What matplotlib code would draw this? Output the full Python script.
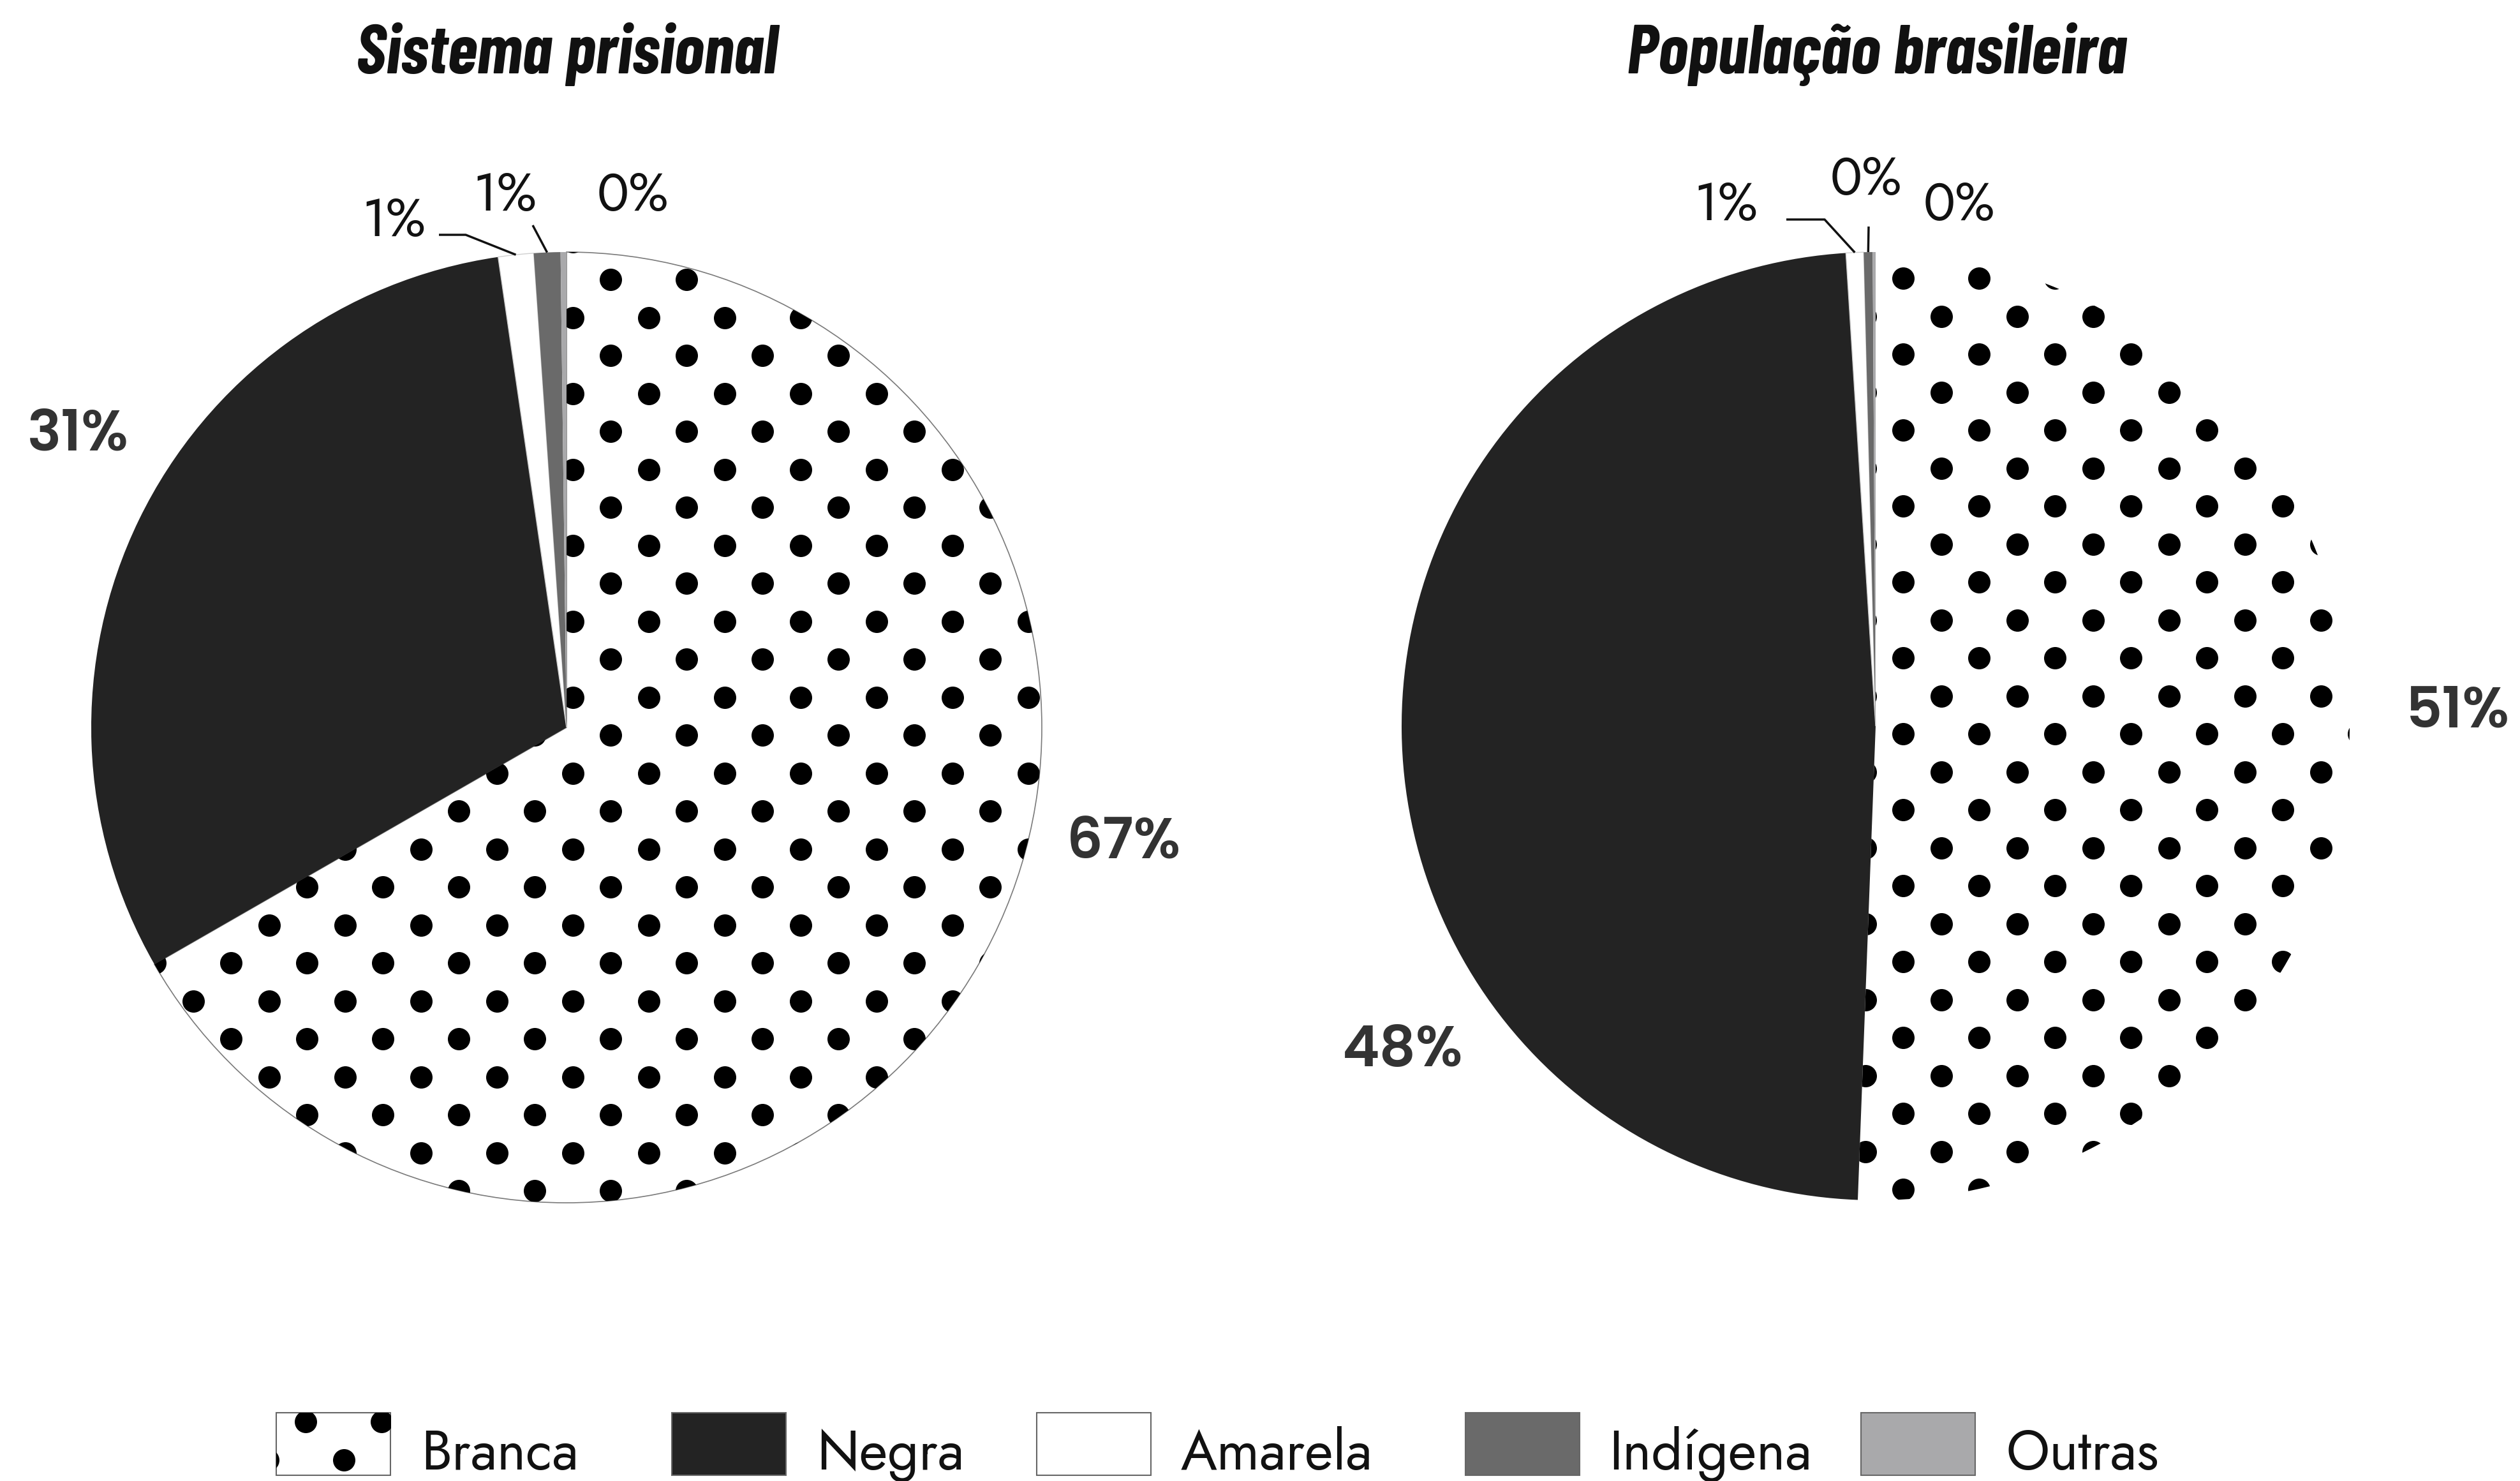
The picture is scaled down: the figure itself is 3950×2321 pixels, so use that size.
import numpy as np
import matplotlib.pyplot as plt
from matplotlib.patches import Rectangle

categorias = ['Branca', 'Negra', 'Amarela', 'Indígena', 'Outras']
prisional = [66.7, 31.0, 1.2, 0.9, 0.2]
populacao = [50.6, 48.4, 0.6, 0.3, 0.1]
titulos = ['Sistema prisional', 'População brasileira']
cores = ['white', '#232323', 'white', '#6a6a6a', '#a9a9ab']

W, H = 3950, 2321
fonte = ['Jost', 'Lato', 'DejaVu Sans']
fonte_negrito = ['Poppins', 'Lato', 'DejaVu Sans']
fonte_titulo = ['Barlow Condensed', 'Fira Sans Condensed', 'DejaVu Sans']
PASSO = 119          # espaçamento da trama de pontos (px)
TAM_PONTO = 635      # área do ponto em pt^2


def py(y):
    # coordenadas de imagem (y para baixo) -> eixo (y para cima)
    return H - y


def trama(x0, y0, x1, y1, ox, oy):
    xs, ys = [], []
    for dx, dy in [(0, 0), (PASSO / 2, PASSO / 2)]:
        kx = np.arange(np.floor((x0 - ox) / PASSO) - 1, np.ceil((x1 - ox) / PASSO) + 2)
        ky = np.arange(np.floor((y0 - oy) / PASSO) - 1, np.ceil((y1 - oy) / PASSO) + 2)
        gx, gy = np.meshgrid(ox + dx + kx * PASSO, oy + dy + ky * PASSO)
        xs.append(gx.ravel())
        ys.append(gy.ravel())
    return np.concatenate(xs), np.concatenate(ys)


def ponto_borda(valores, i, cx, cy, r):
    acum = np.cumsum([0] + list(valores))
    meio = (acum[i] + valores[i] / 2) / acum[-1]
    ang = np.radians(90 - 360 * meio)
    return cx + r * np.cos(ang), cy - r * np.sin(ang)


fig = plt.figure(figsize=(W / 100, H / 100), dpi=100)
ax = fig.add_axes([0, 0, 1, 1])

pizzas = [
    dict(valores=prisional, cx=888, cy=1140, r=745, borda=True, origem=(957, 438),
         grandes=[(0, 1762, 1345), (1, 122, 705)],
         pequenos=[(2, 617, 370, [(688, 368), (730, 368)]),
                   (3, 791, 330, [(835, 353)]),
                   (4, 992, 330, None)],
         titulo_x=888),
    dict(valores=populacao, cx=2940, cy=1138, r=743, borda=False, origem=(2983, 436),
         grandes=[(0, 3852, 1140), (1, 2199, 1671)],
         pequenos=[(2, 2705, 345, [(2800, 344), (2860, 344)]),
                   (3, 2925, 305, [(2929, 355)]),
                   (4, 3071, 345, None)],
         titulo_x=2942),
]

for p, titulo in zip(pizzas, titulos):
    vals = p['valores']
    cx, cy, r = p['cx'], p['cy'], p['r']
    wedges, _ = ax.pie(vals, colors=cores, startangle=90, counterclock=False,
                       center=(cx, py(cy)), radius=r,
                       wedgeprops=dict(linewidth=0))
    # contornos
    wedges[2].set_edgecolor('#d0d0d0')
    wedges[2].set_linewidth(1.0)
    if p['borda']:
        wedges[0].set_edgecolor('#7a7a7a')
        wedges[0].set_linewidth(1.2)

    # trama de pontos da fatia Branca
    xs, ys = trama(cx - r, cy - r, cx + r, cy + r, *p['origem'])
    pts = ax.scatter(xs, py(ys), s=TAM_PONTO, c='black', linewidths=0, zorder=3)
    pts.set_clip_path(wedges[0])

    for i, tx, ty in p['grandes']:
        ax.text(tx, py(ty), f'{vals[i]:.0f}%', ha='center', va='baseline',
                fontsize=64, fontweight='semibold', color='#333333', family=fonte_negrito)

    for i, tx, ty, guia in p['pequenos']:
        ax.text(tx, py(ty), f'{vals[i]:.0f}%', ha='center', va='baseline',
                fontsize=60, color='#111111', family=fonte)
        if guia:
            bx, by = ponto_borda(vals, i, cx, cy, r)
            gx = [g[0] for g in guia] + [bx]
            gy = [py(g[1]) for g in guia] + [py(by)]
            ax.plot(gx, gy, color='#111111', lw=2.5, solid_capstyle='butt')

    ax.text(p['titulo_x'], py(115), titulo, ha='center', va='baseline',
            fontsize=78, fontweight='bold', fontstyle='italic', color='#111111',
            family=fonte_titulo)

# legenda
caixa_x = [433, 1053, 1625, 2297, 2917]
texto_x = [660, 1280, 1851, 2522, 3144]
caixa_y, caixa_w, caixa_h = 2214, 179, 98
for k, (nome, cor) in enumerate(zip(categorias, cores)):
    ret = Rectangle((caixa_x[k], py(caixa_y + caixa_h)), caixa_w, caixa_h,
                    facecolor=cor, edgecolor='#666666', linewidth=1.5, zorder=2)
    ax.add_patch(ret)
    if k == 0:
        xs, ys = trama(caixa_x[k], caixa_y, caixa_x[k] + caixa_w, caixa_y + caixa_h, 479, 2228)
        pts = ax.scatter(xs, py(ys), s=TAM_PONTO, c='black', linewidths=0, zorder=3)
        pts.set_clip_path(ret)
    ax.text(texto_x[k], py(2303), nome, ha='left', va='baseline',
            fontsize=62, color='#111111', family=fonte)

ax.set_xlim(0, W)
ax.set_ylim(0, H)
ax.set_axis_off()

fig.savefig('out.png', dpi=100, facecolor='white')
